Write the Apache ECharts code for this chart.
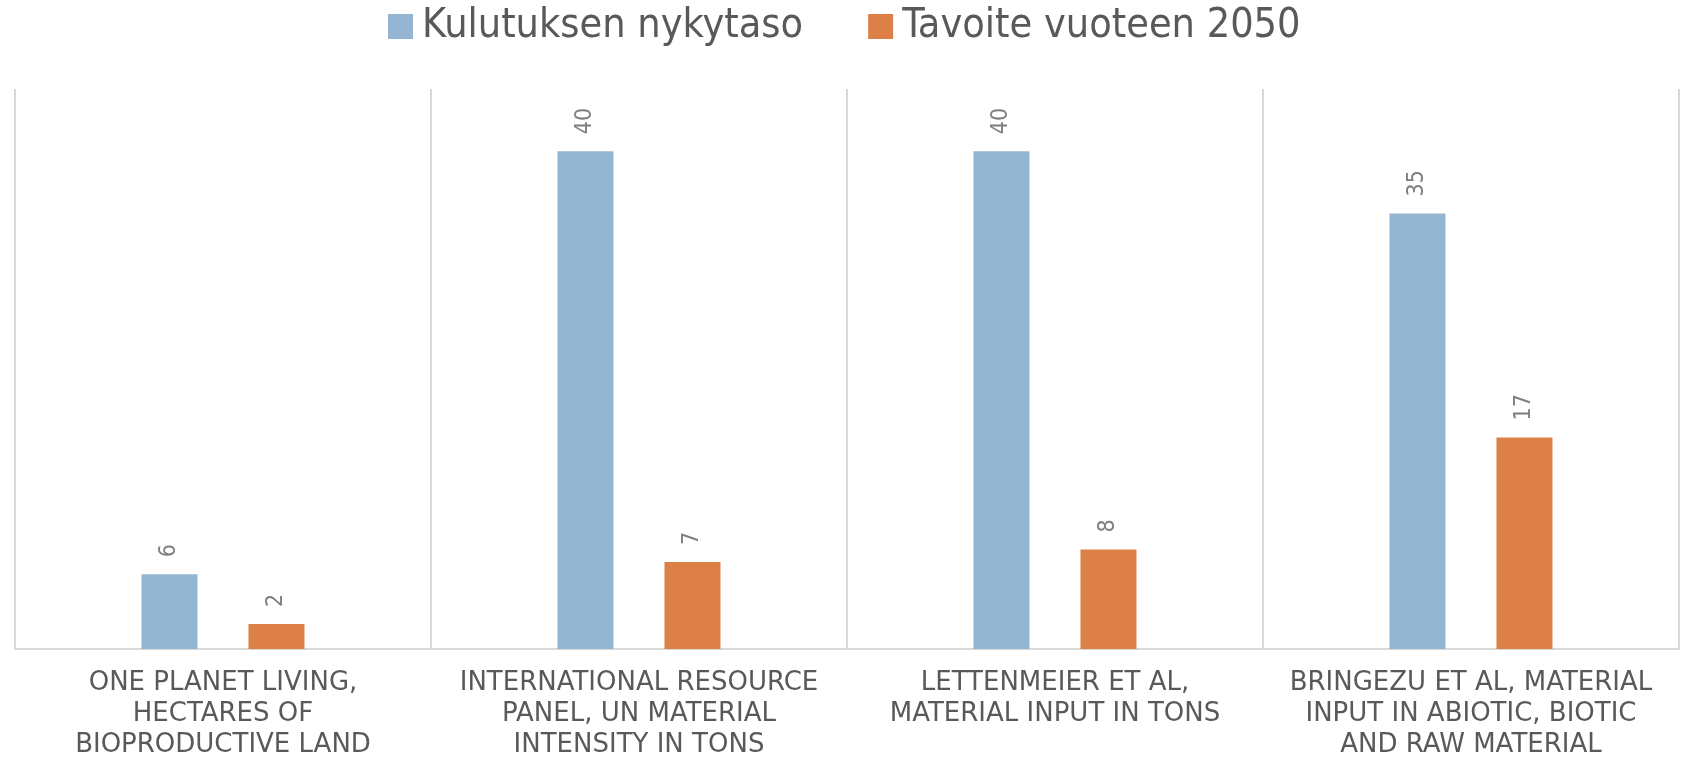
<!DOCTYPE html>
<html>

<head>
    <title>Kulutus</title>
    <meta http-equiv="Content-Type" content="text/html; charset=utf-8">
    <style>
        html, body { margin: 0; padding: 0; background: #fff; }
    </style>
</head>

<body>
    <div id="main" style="width: 1684px;height:761px;"></div>
    <script src="https://cdn.jsdelivr.net/npm/echarts@6/dist/echarts.min.js"></script>
    <script>
        // data
        var categories = [
            'ONE PLANET LIVING,\nHECTARES OF\nBIOPRODUCTIVE LAND',
            'INTERNATIONAL RESOURCE\nPANEL, UN MATERIAL\nINTENSITY IN TONS',
            'LETTENMEIER ET AL,\nMATERIAL INPUT IN TONS',
            'BRINGEZU ET AL, MATERIAL\nINPUT IN ABIOTIC, BIOTIC\nAND RAW MATERIAL'
        ];
        var nykytaso = [6, 40, 40, 35];
        var tavoite2050 = [2, 7, 8, 17];

        var fontMain = "'DejaVu Sans Condensed', 'Liberation Sans Narrow', 'DejaVu Sans', sans-serif";

        var myChart = echarts.init(document.getElementById('main'));

        var barLabel = {
            show: true,
            position: 'top',
            rotate: 90,
            align: 'left',
            verticalAlign: 'middle',
            distance: 17,
            color: '#7f7f7f',
            fontSize: 23,
            fontFamily: fontMain
        };

        var option = {
            animation: false,
            legend: {
                left: 383,
                top: 1,
                itemWidth: 25,
                itemHeight: 25,
                itemGap: 65,
                icon: 'rect',
                textStyle: {
                    fontSize: 41,
                    color: '#595959',
                    fontFamily: fontMain,
                    padding: [0, 0, 0, 4]
                },
                data: ['Kulutuksen nykytaso', 'Tavoite vuoteen 2050']
            },
            grid: {
                left: 15,
                right: 5,
                top: 89,
                bottom: 111,
                containLabel: false
            },
            xAxis: {
                type: 'category',
                data: categories,
                axisLine: { lineStyle: { color: '#d9d9d9', width: 2 } },
                axisTick: { show: false },
                splitLine: { show: true, lineStyle: { color: '#d9d9d9', width: 2 } },
                axisLabel: {
                    interval: 0,
                    margin: 19,
                    color: '#595959',
                    fontSize: 26,
                    lineHeight: 31,
                    fontFamily: "'DejaVu Sans', sans-serif"
                }
            },
            yAxis: {
                type: 'value',
                min: 0,
                max: 45,
                show: false,
                splitLine: { show: false }
            },
            series: [
                {
                    name: 'Kulutuksen nykytaso',
                    type: 'bar',
                    barWidth: 56,
                    barGap: '91%',
                    itemStyle: { color: '#94B6D2' },
                    label: barLabel,
                    data: nykytaso
                },
                {
                    name: 'Tavoite vuoteen 2050',
                    type: 'bar',
                    barWidth: 56,
                    barGap: '91%',
                    itemStyle: { color: '#DD8047' },
                    label: barLabel,
                    data: tavoite2050
                }
            ]
        };
        myChart.setOption(option);
    </script>
</body>
</html>
